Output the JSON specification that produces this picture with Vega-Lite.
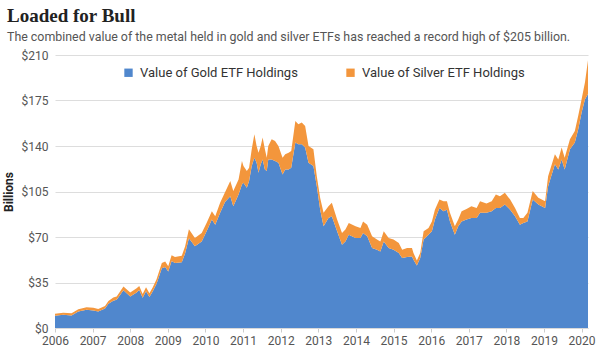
{
  "$schema": "https://vega.github.io/schema/vega-lite/v6.json",
  "autosize": {"type": "none"},
  "width": 533,
  "height": 273,
  "padding": {"left": 55, "top": 55, "right": 12, "bottom": 24},
  "background": "white",
  "title": {
    "text": "Loaded for Bull",
    "subtitle": "The combined value of the metal held in gold and silver ETFs has reached a record high of $205 billion.",
    "anchor": "start",
    "frame": "group",
    "dx": -48,
    "font": "Liberation Serif",
    "fontSize": 19,
    "fontWeight": "bold",
    "color": "#222222",
    "subtitleFont": "Roboto",
    "subtitleFontSize": 12.4,
    "subtitleColor": "#555555",
    "subtitlePadding": 5,
    "offset": 6
  },
  "data": {
    "values": [
      {"year": 2006.00, "gold": 9.5, "silver": 1.5},
      {"year": 2006.22, "gold": 10.2, "silver": 1.6},
      {"year": 2006.44, "gold": 9.7, "silver": 1.6},
      {"year": 2006.62, "gold": 12.6, "silver": 1.8},
      {"year": 2006.84, "gold": 14.0, "silver": 2.0},
      {"year": 2007.02, "gold": 13.5, "silver": 2.0},
      {"year": 2007.15, "gold": 12.7, "silver": 1.9},
      {"year": 2007.33, "gold": 15.0, "silver": 2.0},
      {"year": 2007.42, "gold": 18.6, "silver": 2.2},
      {"year": 2007.55, "gold": 21.0, "silver": 2.4},
      {"year": 2007.64, "gold": 21.7, "silver": 2.5},
      {"year": 2007.82, "gold": 29.0, "silver": 3.0},
      {"year": 2008.00, "gold": 24.3, "silver": 3.0},
      {"year": 2008.17, "gold": 27.4, "silver": 3.2},
      {"year": 2008.24, "gold": 29.2, "silver": 3.2},
      {"year": 2008.33, "gold": 23.2, "silver": 3.0},
      {"year": 2008.42, "gold": 28.2, "silver": 3.2},
      {"year": 2008.51, "gold": 23.8, "silver": 3.0},
      {"year": 2008.60, "gold": 28.3, "silver": 3.1},
      {"year": 2008.70, "gold": 34.0, "silver": 3.5},
      {"year": 2008.84, "gold": 46.0, "silver": 4.0},
      {"year": 2008.93, "gold": 47.0, "silver": 4.2},
      {"year": 2009.01, "gold": 43.5, "silver": 4.0},
      {"year": 2009.10, "gold": 51.5, "silver": 4.5},
      {"year": 2009.19, "gold": 50.0, "silver": 4.6},
      {"year": 2009.37, "gold": 50.5, "silver": 5.0},
      {"year": 2009.46, "gold": 57.5, "silver": 5.3},
      {"year": 2009.56, "gold": 69.0, "silver": 7.0},
      {"year": 2009.72, "gold": 62.8, "silver": 6.4},
      {"year": 2009.90, "gold": 66.6, "silver": 6.4},
      {"year": 2010.03, "gold": 74.4, "silver": 6.4},
      {"year": 2010.17, "gold": 83.4, "silver": 6.4},
      {"year": 2010.26, "gold": 79.5, "silver": 6.5},
      {"year": 2010.39, "gold": 88.6, "silver": 7.7},
      {"year": 2010.52, "gold": 97.0, "silver": 7.5},
      {"year": 2010.66, "gold": 101.4, "silver": 11.6},
      {"year": 2010.74, "gold": 93.7, "silver": 11.6},
      {"year": 2010.88, "gold": 102.7, "silver": 11.6},
      {"year": 2010.97, "gold": 110.4, "silver": 18.0},
      {"year": 2011.01, "gold": 111.7, "silver": 12.9},
      {"year": 2011.10, "gold": 107.9, "silver": 12.8},
      {"year": 2011.16, "gold": 113.0, "silver": 10.3},
      {"year": 2011.23, "gold": 124.6, "silver": 12.9},
      {"year": 2011.30, "gold": 131.0, "silver": 18.0},
      {"year": 2011.36, "gold": 127.2, "silver": 12.8},
      {"year": 2011.41, "gold": 119.5, "silver": 15.4},
      {"year": 2011.47, "gold": 125.9, "silver": 14.1},
      {"year": 2011.52, "gold": 129.7, "silver": 16.8},
      {"year": 2011.58, "gold": 122.0, "silver": 15.5},
      {"year": 2011.63, "gold": 120.7, "silver": 10.3},
      {"year": 2011.67, "gold": 129.7, "silver": 10.3},
      {"year": 2011.76, "gold": 129.7, "silver": 15.5},
      {"year": 2011.85, "gold": 128.4, "silver": 15.5},
      {"year": 2011.94, "gold": 127.2, "silver": 12.8},
      {"year": 2012.05, "gold": 118.1, "silver": 12.9},
      {"year": 2012.12, "gold": 122.0, "silver": 11.6},
      {"year": 2012.21, "gold": 122.0, "silver": 12.9},
      {"year": 2012.28, "gold": 123.3, "silver": 12.8},
      {"year": 2012.39, "gold": 142.6, "silver": 16.7},
      {"year": 2012.47, "gold": 141.3, "silver": 15.5},
      {"year": 2012.56, "gold": 141.3, "silver": 16.7},
      {"year": 2012.65, "gold": 138.8, "silver": 16.6},
      {"year": 2012.74, "gold": 127.2, "silver": 12.8},
      {"year": 2012.87, "gold": 124.6, "silver": 12.9},
      {"year": 2012.96, "gold": 109.1, "silver": 7.7},
      {"year": 2013.05, "gold": 91.0, "silver": 9.0},
      {"year": 2013.14, "gold": 78.2, "silver": 10.4},
      {"year": 2013.27, "gold": 84.7, "silver": 9.0},
      {"year": 2013.36, "gold": 86.0, "silver": 10.3},
      {"year": 2013.50, "gold": 74.4, "silver": 9.0},
      {"year": 2013.63, "gold": 64.1, "silver": 9.0},
      {"year": 2013.72, "gold": 66.6, "silver": 9.1},
      {"year": 2013.81, "gold": 71.8, "silver": 9.0},
      {"year": 2013.99, "gold": 69.2, "silver": 9.0},
      {"year": 2014.12, "gold": 69.2, "silver": 7.8},
      {"year": 2014.19, "gold": 73.1, "silver": 8.9},
      {"year": 2014.30, "gold": 70.5, "silver": 9.0},
      {"year": 2014.43, "gold": 61.5, "silver": 9.0},
      {"year": 2014.56, "gold": 60.2, "silver": 7.8},
      {"year": 2014.65, "gold": 58.9, "silver": 7.7},
      {"year": 2014.74, "gold": 66.6, "silver": 7.8},
      {"year": 2014.87, "gold": 61.5, "silver": 7.7},
      {"year": 2015.00, "gold": 60.2, "silver": 7.8},
      {"year": 2015.14, "gold": 57.7, "silver": 7.7},
      {"year": 2015.23, "gold": 53.8, "silver": 6.4},
      {"year": 2015.36, "gold": 54.6, "silver": 6.9},
      {"year": 2015.49, "gold": 55.0, "silver": 6.5},
      {"year": 2015.53, "gold": 52.5, "silver": 5.2},
      {"year": 2015.62, "gold": 48.0, "silver": 4.0},
      {"year": 2015.71, "gold": 53.8, "silver": 3.9},
      {"year": 2015.80, "gold": 68.0, "silver": 6.4},
      {"year": 2015.93, "gold": 71.8, "silver": 5.2},
      {"year": 2016.02, "gold": 74.4, "silver": 7.6},
      {"year": 2016.10, "gold": 83.4, "silver": 7.6},
      {"year": 2016.22, "gold": 92.4, "silver": 6.4},
      {"year": 2016.33, "gold": 89.8, "silver": 7.7},
      {"year": 2016.42, "gold": 91.0, "silver": 6.5},
      {"year": 2016.50, "gold": 82.0, "silver": 6.6},
      {"year": 2016.63, "gold": 71.8, "silver": 6.4},
      {"year": 2016.72, "gold": 78.2, "silver": 5.2},
      {"year": 2016.81, "gold": 82.0, "silver": 7.8},
      {"year": 2016.94, "gold": 83.4, "silver": 8.2},
      {"year": 2017.07, "gold": 84.7, "silver": 9.0},
      {"year": 2017.21, "gold": 84.7, "silver": 7.7},
      {"year": 2017.30, "gold": 88.6, "silver": 8.9},
      {"year": 2017.47, "gold": 88.6, "silver": 7.2},
      {"year": 2017.61, "gold": 89.8, "silver": 7.7},
      {"year": 2017.72, "gold": 92.4, "silver": 10.3},
      {"year": 2017.83, "gold": 92.4, "silver": 9.0},
      {"year": 2017.96, "gold": 95.0, "silver": 9.0},
      {"year": 2018.10, "gold": 91.0, "silver": 7.8},
      {"year": 2018.23, "gold": 86.0, "silver": 6.4},
      {"year": 2018.36, "gold": 79.5, "silver": 5.2},
      {"year": 2018.45, "gold": 80.8, "silver": 3.9},
      {"year": 2018.56, "gold": 82.0, "silver": 6.6},
      {"year": 2018.70, "gold": 98.8, "silver": 6.5},
      {"year": 2018.85, "gold": 95.0, "silver": 5.1},
      {"year": 2019.03, "gold": 92.4, "silver": 5.1},
      {"year": 2019.11, "gold": 109.1, "silver": 7.7},
      {"year": 2019.29, "gold": 125.9, "silver": 7.7},
      {"year": 2019.38, "gold": 122.0, "silver": 7.7},
      {"year": 2019.47, "gold": 129.7, "silver": 9.1},
      {"year": 2019.55, "gold": 122.0, "silver": 9.0},
      {"year": 2019.69, "gold": 137.5, "silver": 7.7},
      {"year": 2019.82, "gold": 142.6, "silver": 9.0},
      {"year": 2019.91, "gold": 152.9, "silver": 10.3},
      {"year": 2020.00, "gold": 165.8, "silver": 10.2},
      {"year": 2020.09, "gold": 176.0, "silver": 13.0},
      {"year": 2020.17, "gold": 180.0, "silver": 26.0}
    ]
  },
  "transform": [
    {"fold": ["gold", "silver"], "as": ["metal", "value"]}
  ],
  "mark": {"type": "area", "interpolate": "linear", "strokeWidth": 0},
  "encoding": {
    "x": {
      "field": "year",
      "type": "quantitative",
      "scale": {"domain": [2006, 2020.17], "nice": false, "zero": false},
      "axis": {
        "title": null,
        "values": [2006, 2007, 2008, 2009, 2010, 2011, 2012, 2013, 2014, 2015, 2016, 2017, 2018, 2019, 2020],
        "format": "d",
        "grid": false,
        "domain": true,
        "domainColor": "#d9d9d9",
        "ticks": true,
        "tickColor": "#cccccc",
        "tickSize": 4,
        "labelFont": "Roboto",
        "labelFontSize": 12,
        "labelColor": "#555555",
        "labelPadding": 3,
        "labelFlush": false
      }
    },
    "y": {
      "field": "value",
      "type": "quantitative",
      "stack": "zero",
      "scale": {"domain": [0, 210], "nice": false},
      "axis": {
        "title": "Billions",
        "titleFont": "Roboto",
        "titleFontSize": 12,
        "titleFontWeight": "bold",
        "titleColor": "#222222",
        "titlePadding": 6,
        "values": [0, 35, 70, 105, 140, 175, 210],
        "labelExpr": "'$' + datum.value",
        "labelFont": "Roboto",
        "labelFontSize": 12,
        "labelColor": "#555555",
        "labelPadding": 7,
        "domain": false,
        "ticks": false,
        "grid": true,
        "gridColor": "#dddddd",
        "gridWidth": 1
      }
    },
    "color": {
      "field": "metal",
      "type": "nominal",
      "scale": {"domain": ["gold", "silver"], "range": ["#5087CD", "#F3963C"]},
      "legend": {
        "title": null,
        "orient": "none",
        "legendX": 67,
        "legendY": 11,
        "direction": "horizontal",
        "symbolType": "square",
        "symbolSize": 70,
        "symbolStrokeWidth": 0,
        "symbolOpacity": 1,
        "labelFont": "Roboto",
        "labelFontSize": 13,
        "labelColor": "#333333",
        "labelOffset": 5,
        "labelLimit": 400,
        "columnPadding": 46,
        "labelExpr": "datum.label == 'gold' ? 'Value of Gold ETF Holdings' : 'Value of Silver ETF Holdings'"
      }
    },
    "order": {"field": "metal", "type": "nominal", "sort": "ascending"}
  },
  "config": {
    "view": {"stroke": null}
  }
}
